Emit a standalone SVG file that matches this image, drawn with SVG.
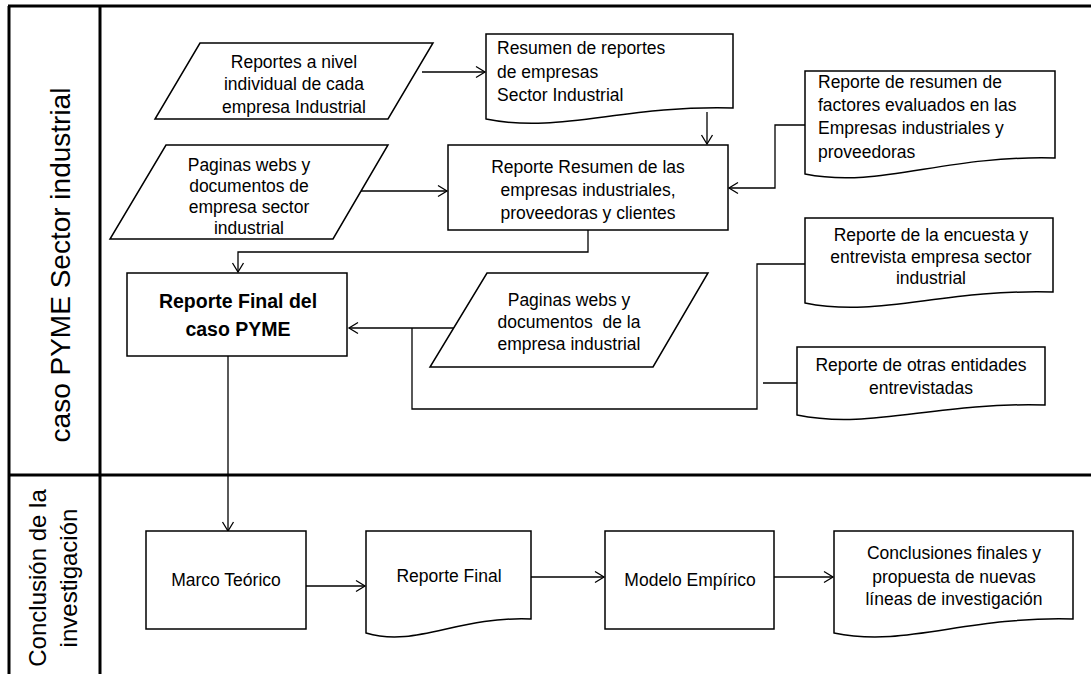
<svg xmlns="http://www.w3.org/2000/svg" width="1091" height="674" viewBox="0 0 1091 674">
  <style>
    .shape { fill: #ffffff; stroke: #000000; stroke-width: 1.5; }
    .conn { fill: none; stroke: #000000; stroke-width: 1.3; }
    .lane { fill: none; stroke: #000000; stroke-width: 3; }
    .t { font-family: "Liberation Sans", Arial, sans-serif; font-size: 17.5px; fill: #000000; }
    .c { text-anchor: middle; }
    .b { font-weight: bold; font-size: 19.5px; }
    .lbl { font-family: "Liberation Sans", Arial, sans-serif; fill: #000000; text-anchor: middle; }
  </style>
  <defs>
    <marker id="arrow" viewBox="-11 -7 13 14" refX="0" refY="0" markerWidth="13" markerHeight="14" markerUnits="userSpaceOnUse" orient="auto">
      <path d="M-9,-5.5 L0,0 L-9,5.5" fill="none" stroke="#000000" stroke-width="1.3"/>
    </marker>
  </defs>

  <rect width="1091" height="674" fill="#ffffff"/>

  <!-- swimlane frame -->
  <g id="lanes">
    <line class="lane" x1="8" y1="6" x2="1091" y2="6"/>
    <line class="lane" x1="9" y1="6" x2="9" y2="674"/>
    <line class="lane" x1="100" y1="6" x2="100" y2="674"/>
    <line class="lane" x1="9" y1="475" x2="1091" y2="475"/>
    <text class="lbl" font-size="28" transform="translate(70,265) rotate(-90)">caso PYME Sector industrial</text>
    <text class="lbl" font-size="24" transform="translate(46,578) rotate(-90)">Conclusión de la</text>
    <text class="lbl" font-size="24" transform="translate(77,578) rotate(-90)">investigación</text>
  </g>

  <!-- connectors -->
  <g id="connectors">
    <path class="conn" d="M422,72 H485" marker-end="url(#arrow)"/>
    <path class="conn" d="M707,112 V144" marker-end="url(#arrow)"/>
    <path class="conn" d="M357,191 H447" marker-end="url(#arrow)"/>
    <path class="conn" d="M805,125 H775 V188 H729" marker-end="url(#arrow)"/>
    <path class="conn" d="M588,230 V252 H238 V272" marker-end="url(#arrow)"/>
    <path class="conn" d="M805,264 H757 V409 H412 V328"/>
    <path class="conn" d="M457,328 H349" marker-end="url(#arrow)"/>
    <path class="conn" d="M797,383 H763"/>
    <path class="conn" d="M228,356 V531" marker-end="url(#arrow)"/>
    <path class="conn" d="M303,586 H365" marker-end="url(#arrow)"/>
    <path class="conn" d="M531,577 H604" marker-end="url(#arrow)"/>
    <path class="conn" d="M770,577 H833" marker-end="url(#arrow)"/>
  </g>

  <g id="reportes-individuales">
    <polygon class="shape" points="200,43 433,43 388,119 155,119"/>
    <text class="t c"><tspan x="294" y="68">Reportes a nivel</tspan><tspan x="294" y="90">individual de cada</tspan><tspan x="294" y="113">empresa Industrial</tspan></text>
  </g>

  <g id="resumen-reportes">
    <path class="shape" d="M486,34 H733 V108 C622,105 560,134 486,119 Z"/>
    <text class="t"><tspan x="497" y="54">Resumen de reportes</tspan><tspan x="497" y="78">de empresas</tspan><tspan x="497" y="101">Sector Industrial</tspan></text>
  </g>

  <g id="paginas-sector">
    <polygon class="shape" points="166,145 388,145 333,239 110,239"/>
    <text class="t c"><tspan x="249" y="171">Paginas webs y</tspan><tspan x="249" y="192">documentos de</tspan><tspan x="249" y="213">empresa sector</tspan><tspan x="249" y="234">industrial</tspan></text>
  </g>

  <g id="reporte-resumen">
    <rect class="shape" x="448" y="145" width="280" height="85"/>
    <text class="t c"><tspan x="588" y="173">Reporte Resumen de las</tspan><tspan x="588" y="196">empresas industriales,</tspan><tspan x="588" y="219">proveedoras y clientes</tspan></text>
  </g>

  <g id="resumen-factores">
    <path class="shape" d="M805,71 H1055 V158 C943,155 880,189 805,174 Z"/>
    <text class="t"><tspan x="818" y="88">Reporte de resumen de</tspan><tspan x="818" y="111">factores evaluados en las</tspan><tspan x="818" y="134">Empresas industriales y</tspan><tspan x="818" y="158">proveedoras</tspan></text>
  </g>

  <g id="reporte-encuesta">
    <path class="shape" d="M805,218 H1053 V292 C941,289 879,318 805,303 Z"/>
    <text class="t c"><tspan x="931" y="241">Reporte de la encuesta y</tspan><tspan x="931" y="263">entrevista empresa sector</tspan><tspan x="931" y="284">industrial</tspan></text>
  </g>

  <g id="reporte-otras">
    <path class="shape" d="M797,347 H1045 V405 C933,402 871,430 797,415 Z"/>
    <text class="t c"><tspan x="921" y="371">Reporte de otras entidades</tspan><tspan x="921" y="394">entrevistadas</tspan></text>
  </g>

  <g id="reporte-final-pyme">
    <rect class="shape" x="127" y="273" width="220" height="83"/>
    <text class="t c b"><tspan x="238" y="308">Reporte Final del</tspan><tspan x="238" y="336">caso PYME</tspan></text>
  </g>

  <g id="paginas-empresa">
    <polygon class="shape" points="487,273 708,273 653,367 430,367"/>
    <text class="t c" xml:space="preserve"><tspan x="569" y="306">Paginas webs y</tspan><tspan x="569" y="328">documentos  de la</tspan><tspan x="569" y="350">empresa industrial</tspan></text>
  </g>

  <g id="marco-teorico">
    <rect class="shape" x="146" y="531" width="160" height="98"/>
    <text class="t c" x="226" y="586">Marco Teórico</text>
  </g>

  <g id="reporte-final">
    <path class="shape" d="M366,531 H531 V619 C457,616 416,648 366,633 Z"/>
    <text class="t c" x="449" y="582">Reporte Final</text>
  </g>

  <g id="modelo-empirico">
    <rect class="shape" x="605" y="531" width="169" height="98"/>
    <text class="t c" x="690" y="586">Modelo Empírico</text>
  </g>

  <g id="conclusiones-finales">
    <path class="shape" d="M834,531 H1073 V619 C965,616 906,648 834,633 Z"/>
    <text class="t c"><tspan x="954" y="559">Conclusiones finales y</tspan><tspan x="954" y="583">propuesta de nuevas</tspan><tspan x="954" y="605">líneas de investigación</tspan></text>
  </g>
</svg>
